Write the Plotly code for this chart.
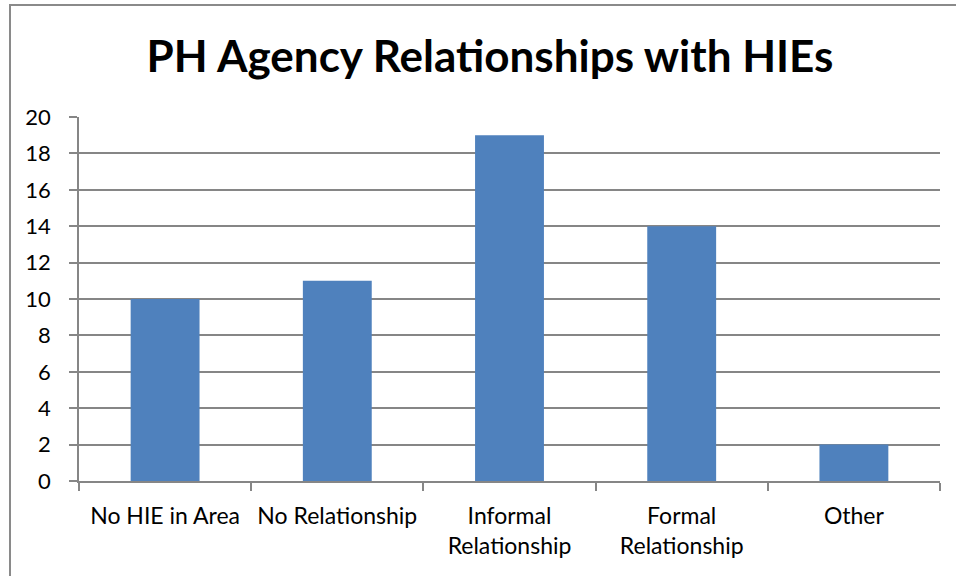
import plotly.graph_objects as go

# Data
categories = ["No HIE in Area", "No Relationship", "Informal<br>Relationship",
              "Formal<br>Relationship", "Other"]
counts = [10, 11, 19, 14, 2]
y_ticks = [0, 2, 4, 6, 8, 10, 12, 14, 16, 18, 20]

W, H = 956, 576
L, R, T, B = 79, 16, 117, 95
pw = W - L - R
ph = H - T - B

fig = go.Figure()
fig.add_trace(go.Bar(x=categories, y=counts, marker_color="#4F81BD",
                     marker_line_width=0, width=0.4))

grey = "#868686"
fig.update_xaxes(
    showline=True, linecolor=grey, linewidth=1.5,
    ticks="outside", tickson="boundaries", ticklen=8, tickcolor=grey, tickwidth=1.5,
    ticklabelstandoff=14, tickangle=0, automargin=False,
    tickfont=dict(family="Lato", size=23, color="#000000"),
    showgrid=False, fixedrange=True,
)
fig.update_yaxes(
    range=[0, 20], tickvals=y_ticks,
    showline=True, linecolor=grey, linewidth=1.5,
    ticks="outside", ticklen=8, tickcolor=grey, tickwidth=1.5,
    ticklabelstandoff=14, automargin=False,
    showgrid=True, gridcolor=grey, gridwidth=1.5,
    zeroline=False,
    tickfont=dict(family="Lato", size=22, color="#000000"),
    fixedrange=True,
)

# outer chart frame
fig.add_shape(type="rect", xref="paper", yref="paper",
              x0=(10 - L) / pw, x1=1.2, y0=-0.5, y1=(ph + T - 5) / ph,
              line=dict(color="#8a8a8a", width=2), fillcolor="rgba(0,0,0,0)")

fig.update_layout(
    width=W, height=H,
    margin=dict(l=L, r=R, t=T, b=B, autoexpand=False),
    paper_bgcolor="white", plot_bgcolor="white",
    showlegend=False, bargap=0.6,
    title=dict(text="<b>PH Agency Relationships with HIEs</b>",
               x=490 / W, xanchor="center", y=1 - 57 / H, yanchor="middle",
               font=dict(family="Lato", size=44, color="#000000")),
)

fig.write_html("out.html", config={"displayModeBar": False},
               post_script="document.body.style.margin='0';")
